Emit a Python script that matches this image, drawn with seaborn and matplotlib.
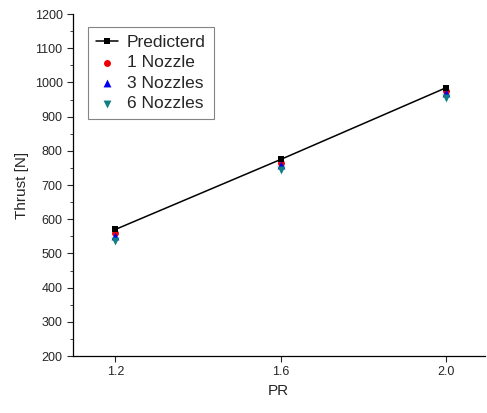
import matplotlib
matplotlib.use("Agg")
import matplotlib.pyplot as plt
import seaborn as sns
import pandas as pd
from matplotlib.ticker import MultipleLocator

pr = [1.2, 1.6, 2.0]
predicted = [570, 775, 985]
nozzle1 = [560, 765, 975]
nozzle3 = [550, 758, 968]
nozzle6 = [535, 745, 955]

sns.set_style("ticks")
plt.rcParams['font.family'] = ['Liberation Sans', 'DejaVu Sans']

fig = plt.figure(figsize=(4.87, 4.13), dpi=100)
ax = fig.add_axes([0.15, 0.138, 0.845, 0.828])

df = pd.DataFrame({"PR": pr, "Predicted": predicted})
sns.lineplot(data=df, x="PR", y="Predicted", ax=ax, color="black", lw=1.1,
             marker="s", markersize=5, markeredgewidth=0, label="Predicterd")
sns.scatterplot(x=pr, y=nozzle1, ax=ax, color="#ee0000", marker="o", s=25,
                linewidth=0, label="1 Nozzle")
sns.scatterplot(x=pr, y=nozzle3, ax=ax, color="#0000ee", marker="^", s=32,
                linewidth=0, label="3 Nozzles")
sns.scatterplot(x=pr, y=nozzle6, ax=ax, color="#108080", marker="v", s=32,
                linewidth=0, label="6 Nozzles")

ax.set_xlim(1.098, 2.092)
ax.set_ylim(200, 1200)
ax.set_xticks(pr)
ax.set_xticklabels(["1.2", "1.6", "2.0"])
ax.yaxis.set_major_locator(MultipleLocator(100))
ax.yaxis.set_minor_locator(MultipleLocator(50))
ax.tick_params(axis='both', direction='out', labelsize=9, length=4, width=0.8)
ax.tick_params(axis='y', which='minor', length=2, width=0.6)
sns.despine(ax=ax)
for s in ax.spines.values():
    s.set_linewidth(0.9)
    s.set_color("black")
ax.set_xlabel("PR", fontsize=11)
ax.set_ylabel("Thrust [N]", fontsize=11)

leg = ax.legend(loc="upper left", bbox_to_anchor=(0.036, 0.962), borderaxespad=0,
                fontsize=12.5, frameon=True, fancybox=False, edgecolor="#666666",
                handlelength=1.3, handletextpad=0.5, borderpad=0.45,
                labelspacing=0.3)
leg.get_frame().set_linewidth(0.8)

fig.savefig("out.png", dpi=100)
